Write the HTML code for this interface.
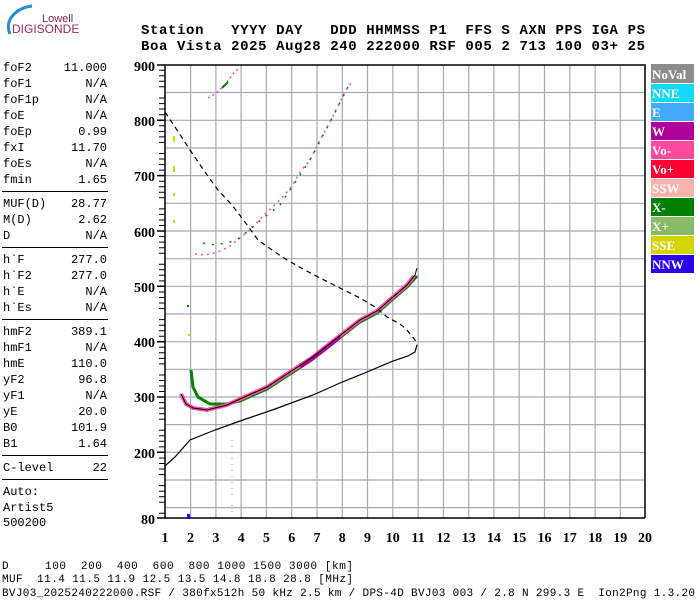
<!DOCTYPE html>
<html><head><meta charset="utf-8"><style>
body{margin:0;background:#fff;width:700px;height:600px;overflow:hidden}
svg{display:block}
.m{font-family:"Liberation Mono",monospace}
.s{font-family:"Liberation Serif",serif;font-weight:bold}
</style></head><body>
<svg width="700" height="600" viewBox="0 0 700 600" xmlns="http://www.w3.org/2000/svg">
<path d="M10,34 C4,20 16,8 32,6" fill="none" stroke="#2a8fd0" stroke-width="3"/>
<text x="42" y="22" font-family="Liberation Sans,sans-serif" font-size="11" fill="#7a2a4a">Lowell</text>
<text x="12" y="33" font-family="Liberation Sans,sans-serif" font-size="12" fill="#a02a5a">DIGISONDE</text>
<text class="m" x="141" y="34" font-size="14" font-weight="bold" textLength="504" xml:space="preserve">Station   YYYY DAY   DDD HHMMSS P1  FFS S AXN PPS IGA PS</text>
<text class="m" x="141" y="50" font-size="14" font-weight="bold" textLength="504" xml:space="preserve">Boa Vista 2025 Aug28 240 222000 RSF 005 2 713 100 03+ 25</text>
<g class="m" font-size="12">
<text x="3" y="71">foF2</text><text x="107" y="71" text-anchor="end">11.000</text>
<text x="3" y="87">foF1</text><text x="107" y="87" text-anchor="end">N/A</text>
<text x="3" y="103">foF1p</text><text x="107" y="103" text-anchor="end">N/A</text>
<text x="3" y="119">foE</text><text x="107" y="119" text-anchor="end">N/A</text>
<text x="3" y="135">foEp</text><text x="107" y="135" text-anchor="end">0.99</text>
<text x="3" y="151">fxI</text><text x="107" y="151" text-anchor="end">11.70</text>
<text x="3" y="167">foEs</text><text x="107" y="167" text-anchor="end">N/A</text>
<text x="3" y="183">fmin</text><text x="107" y="183" text-anchor="end">1.65</text>
<text x="3" y="207">MUF(D)</text><text x="107" y="207" text-anchor="end">28.77</text>
<text x="3" y="223">M(D)</text><text x="107" y="223" text-anchor="end">2.62</text>
<text x="3" y="239">D</text><text x="107" y="239" text-anchor="end">N/A</text>
<text x="3" y="263">h`F</text><text x="107" y="263" text-anchor="end">277.0</text>
<text x="3" y="279">h`F2</text><text x="107" y="279" text-anchor="end">277.0</text>
<text x="3" y="295">h`E</text><text x="107" y="295" text-anchor="end">N/A</text>
<text x="3" y="311">h`Es</text><text x="107" y="311" text-anchor="end">N/A</text>
<text x="3" y="335">hmF2</text><text x="107" y="335" text-anchor="end">389.1</text>
<text x="3" y="351">hmF1</text><text x="107" y="351" text-anchor="end">N/A</text>
<text x="3" y="367">hmE</text><text x="107" y="367" text-anchor="end">110.0</text>
<text x="3" y="383">yF2</text><text x="107" y="383" text-anchor="end">96.8</text>
<text x="3" y="399">yF1</text><text x="107" y="399" text-anchor="end">N/A</text>
<text x="3" y="415">yE</text><text x="107" y="415" text-anchor="end">20.0</text>
<text x="3" y="431">B0</text><text x="107" y="431" text-anchor="end">101.9</text>
<text x="3" y="447">B1</text><text x="107" y="447" text-anchor="end">1.64</text>
<text x="3" y="471">C-level</text><text x="107" y="471" text-anchor="end">22</text>
<text x="3" y="495">Auto:</text>
<text x="3" y="511">Artist5</text>
<text x="3" y="526">500200</text>
</g>
<g stroke="#000" stroke-width="1">
<line x1="2" y1="191.5" x2="108" y2="191.5"/><line x1="2" y1="247.5" x2="108" y2="247.5"/>
<line x1="2" y1="319.5" x2="108" y2="319.5"/><line x1="2" y1="455.5" x2="108" y2="455.5"/>
<line x1="2" y1="479.5" x2="108" y2="479.5"/>
</g>
<g stroke="#a8a8b8" stroke-width="1.2">
<line x1="190.6" y1="65" x2="190.6" y2="518"/><line x1="215.9" y1="65" x2="215.9" y2="518"/><line x1="241.1" y1="65" x2="241.1" y2="518"/><line x1="266.4" y1="65" x2="266.4" y2="518"/><line x1="291.7" y1="65" x2="291.7" y2="518"/><line x1="317" y1="65" x2="317" y2="518"/><line x1="342.3" y1="65" x2="342.3" y2="518"/><line x1="367.5" y1="65" x2="367.5" y2="518"/><line x1="392.8" y1="65" x2="392.8" y2="518"/><line x1="418.1" y1="65" x2="418.1" y2="518"/><line x1="443.4" y1="65" x2="443.4" y2="518"/><line x1="468.7" y1="65" x2="468.7" y2="518"/><line x1="493.9" y1="65" x2="493.9" y2="518"/><line x1="519.2" y1="65" x2="519.2" y2="518"/><line x1="544.5" y1="65" x2="544.5" y2="518"/><line x1="569.8" y1="65" x2="569.8" y2="518"/><line x1="595.1" y1="65" x2="595.1" y2="518"/><line x1="620.3" y1="65" x2="620.3" y2="518"/>
<line x1="165" y1="92.5" x2="645" y2="92.5"/><line x1="165" y1="120.3" x2="645" y2="120.3"/><line x1="165" y1="148" x2="645" y2="148"/><line x1="165" y1="175.6" x2="645" y2="175.6"/><line x1="165" y1="203.3" x2="645" y2="203.3"/><line x1="165" y1="231" x2="645" y2="231"/><line x1="165" y1="258.7" x2="645" y2="258.7"/><line x1="165" y1="286.3" x2="645" y2="286.3"/><line x1="165" y1="314" x2="645" y2="314"/><line x1="165" y1="341.7" x2="645" y2="341.7"/><line x1="165" y1="369.3" x2="645" y2="369.3"/><line x1="165" y1="397" x2="645" y2="397"/><line x1="165" y1="424.6" x2="645" y2="424.6"/><line x1="165" y1="452.3" x2="645" y2="452.3"/><line x1="165" y1="480" x2="645" y2="480"/><line x1="165" y1="507.6" x2="645" y2="507.6"/>
</g>
<path d="M165,65 H645 V518 M165,65 V518 H645" fill="none" stroke="#000" stroke-width="1.5"/>
<path d="M159,70.2H165M159,75.7H165M159,81.3H165M159,86.8H165M159,98H165M159,103.6H165M159,109H165M159,114.7H165M159,125.8H165M159,131.4H165M159,136.9H165M159,142.4H165M159,153.5H165M159,159H165M159,164.6H165M159,170.1H165M159,181.2H165M159,186.8H165M159,192.3H165M159,197.8H165M159,208.9H165M159,214.4H165M159,220H165M159,225.5H165M159,236.6H165M159,242.1H165M159,247.7H165M159,253.2H165M159,264.3H165M159,269.8H165M159,275.3H165M159,280.9H165M159,292H165M159,297.5H165M159,303H165M159,308.6H165M159,319.6H165M159,325.2H165M159,330.7H165M159,336.2H165M159,347.3H165M159,352.8H165M159,358.4H165M159,363.9H165M159,375H165M159,380.5H165M159,386H165M159,391.5H165M159,402.6H165M159,408.1H165M159,413.7H165M159,419.2H165M159,430.3H165M159,435.8H165M159,441.3H165M159,446.9H165M159,458H165M159,463.5H165M159,469H165M159,474.6H165M159,485.6H165M159,491.2H165M159,496.7H165M159,502.2H165M159,513.3H165" stroke="#000" stroke-width="1"/>
<path d="M157,65H165M157,120.3H165M157,175.6H165M157,231H165M157,286.3H165M157,341.7H165M157,397H165M157,452.3H165M157,518H165" stroke="#000" stroke-width="1.5"/>
<g class="s" font-size="14" text-anchor="end">
<text x="155" y="71">900</text><text x="155" y="126">800</text><text x="155" y="181">700</text><text x="155" y="237">600</text><text x="155" y="292">500</text><text x="155" y="347">400</text><text x="155" y="402">300</text><text x="155" y="458">200</text><text x="155" y="524">80</text>
</g>
<g class="s" font-size="14" text-anchor="middle">
<text x="165" y="542">1</text><text x="190.6" y="542">2</text><text x="215.9" y="542">3</text><text x="241.1" y="542">4</text><text x="266.4" y="542">5</text><text x="291.7" y="542">6</text><text x="317" y="542">7</text><text x="342.3" y="542">8</text><text x="367.5" y="542">9</text><text x="392.8" y="542">10</text><text x="418.1" y="542">11</text><text x="443.4" y="542">12</text><text x="468.7" y="542">13</text><text x="493.9" y="542">14</text><text x="519.2" y="542">15</text><text x="544.5" y="542">16</text><text x="569.8" y="542">17</text><text x="595.1" y="542">18</text><text x="620.3" y="542">19</text><text x="645" y="542">20</text>
</g>
<!-- traces -->
<polyline points="191,370 193,387 198,397 210,404 227,404 240,401 267,389 293,372 313,359 337,340 360,322 377,313 393,299 407,287 417,276" fill="none" stroke="#008000" stroke-width="3"/>
<polyline points="181,394 186,404 193,408 207,410 227,405 240,399 267,387 293,370 313,357 337,338 360,320 377,311 393,297 407,285 414,276" fill="none" stroke="#ff4fa0" stroke-width="4"/>
<polyline points="300,367 313,358 330,345 340,337" fill="none" stroke="#b0009a" stroke-width="4"/>
<polyline points="181,394 186,404 193,408 207,410 227,405 240,399 267,387 293,370 313,357 337,338 360,320 377,311 393,297 407,285 415,275 417,268" fill="none" stroke="#000" stroke-width="1"/>
<polyline points="165,466 175,457 190,440 215,430 240,421 275,409 313,395 340,383 367,372 393,361 408,356 415,352 417,345" fill="none" stroke="#000" stroke-width="1.2"/>
<polyline points="165,112 177,130 190,150 205,172 218,190 232,205 245,222 258,240 272,250 287,260 303,269 320,278 340,288 360,298 375,307 387,317 400,324 407,330 415,340 417,345" fill="none" stroke="#000" stroke-width="1.2" stroke-dasharray="5,4"/>
<!-- upper scatter -->
<polyline points="195,254 205,255 218,252 230,246 240,238 252,228 266,213 280,200 292,186 300,172 310,160 320,140 330,122 338,106 346,90 352,82" fill="none" stroke="#ff4fa0" stroke-width="1.5" stroke-dasharray="2,4"/>
<polyline points="203,243 215,245 230,242 240,238 258,222 280,205 310,160 330,122 348,87" fill="none" stroke="#008000" stroke-width="1.5" stroke-dasharray="2,7"/>
<polyline points="208,98 215,94 225,85 232,75 240,67" fill="none" stroke="#ff4fa0" stroke-width="1.5" stroke-dasharray="2,3"/>
<polyline points="222,88 228,82" fill="none" stroke="#008000" stroke-width="2"/>
<rect x="173" y="136" width="2" height="6" fill="#d4d400"/><rect x="173" y="166" width="2" height="6" fill="#d4d400"/><rect x="173" y="193" width="2" height="3" fill="#d4d400"/><rect x="173" y="220" width="2" height="3" fill="#d4d400"/>
<rect x="187" y="305" width="2" height="2" fill="#008000"/><rect x="188" y="334" width="2" height="2" fill="#d4d400"/>
<rect x="187" y="514" width="3" height="5" fill="#3000e0"/>
<path d="M232,440V500M232,505V515" stroke="#888" stroke-width="1" stroke-dasharray="1,5"/>
<g font-family="Liberation Serif,serif" font-weight="bold" font-size="13" fill="#fff">
<rect x="651" y="64" width="43" height="19" fill="#8c8c8c"/><text x="652" y="79">NoVal</text>
<rect x="651" y="84" width="43" height="18" fill="#14d8f8"/><text x="652" y="98">NNE</text>
<rect x="651" y="103" width="43" height="18" fill="#44aaff"/><text x="652" y="117">E</text>
<rect x="651" y="122" width="43" height="18" fill="#b0009a"/><text x="652" y="136">W</text>
<rect x="651" y="141" width="43" height="18" fill="#ff4aa0"/><text x="652" y="155">Vo-</text>
<rect x="651" y="160" width="43" height="18" fill="#ff0035"/><text x="652" y="174">Vo+</text>
<rect x="651" y="179" width="43" height="18" fill="#f8b4ac"/><text x="652" y="193">SSW</text>
<rect x="651" y="198" width="43" height="18" fill="#008000"/><text x="652" y="212">X-</text>
<rect x="651" y="217" width="43" height="18" fill="#88bb66"/><text x="652" y="231">X+</text>
<rect x="651" y="236" width="43" height="18" fill="#d4d400"/><text x="652" y="250">SSE</text>
<rect x="651" y="255" width="43" height="18" fill="#2a00e6"/><text x="652" y="269">NNW</text>
</g>
<g class="m" font-size="11">
<text x="2" y="569" xml:space="preserve" textLength="351">D     100  200  400  600  800 1000 1500 3000 [km]</text>
<text x="2" y="582" xml:space="preserve" textLength="351">MUF  11.4 11.5 11.9 12.5 13.5 14.8 18.8 28.8 [MHz]</text>
<text x="2" y="596" xml:space="preserve" textLength="693">BVJ03_2025240222000.RSF / 380fx512h 50 kHz 2.5 km / DPS-4D BVJ03 003 / 2.8 N 299.3 E  Ion2Png 1.3.20</text>
</g>
</svg>
</body></html>
